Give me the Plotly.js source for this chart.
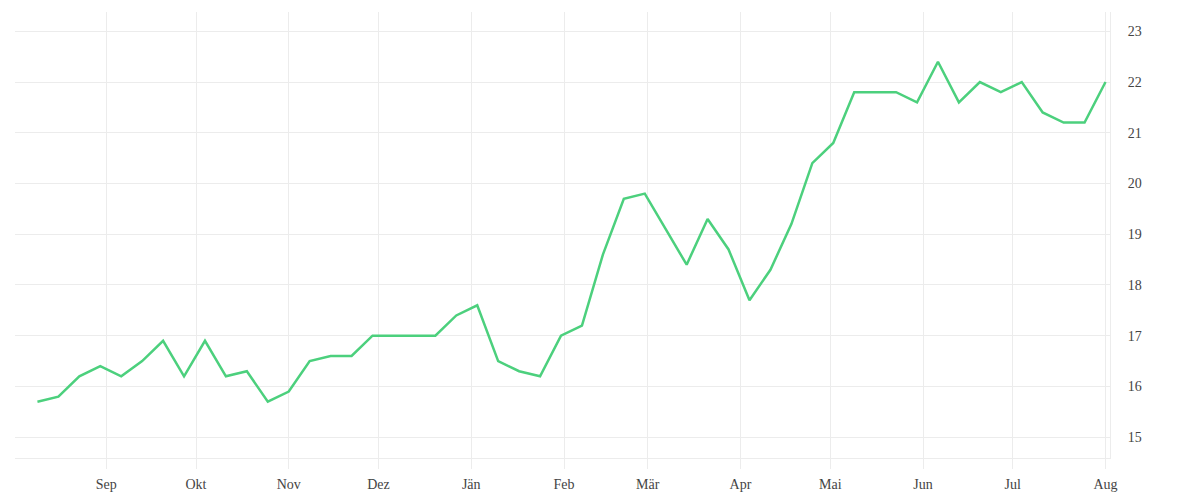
<!DOCTYPE html>
<html>
<head>
<meta charset="utf-8">
<script src="https://cdn.plot.ly/plotly-3.0.1.min.js"></script>
<style>
  html, body { margin: 0; padding: 0; background: #fff; }
  #chart { width: 1200px; height: 500px; }
</style>
</head>
<body>
<div id="chart"></div>
<script>
// weekly values, first week 2022-08-09
const startDate = '2022-08-09';
const values = [
  15.7, 15.8, 16.2, 16.4, 16.2, 16.5, 16.9, 16.2, 16.9, 16.2,
  16.3, 15.7, 15.9, 16.5, 16.6, 16.6, 17.0, 17.0, 17.0, 17.0,
  17.4, 17.6, 16.5, 16.3, 16.2, 17.0, 17.2, 18.6, 19.7, 19.8,
  19.1, 18.4, 19.3, 18.7, 17.7, 18.3, 19.2, 20.4, 20.8, 21.8,
  21.8, 21.8, 21.6, 22.4, 21.6, 22.0, 21.8, 22.0, 21.4, 21.2,
  21.2, 22.0,
];

const monthTicks = [
  '2022-09-01', '2022-10-01', '2022-11-01', '2022-12-01', '2023-01-01', '2023-02-01',
  '2023-03-01', '2023-04-01', '2023-05-01', '2023-06-01', '2023-07-01', '2023-08-01',
];
const monthLabels = ['Sep', 'Okt', 'Nov', 'Dez', 'Jän', 'Feb', 'Mär', 'Apr', 'Mai', 'Jun', 'Jul', 'Aug'];

// one date per week
const dates = values.map((v, i) => {
  const d = new Date(startDate + 'T00:00:00Z');
  d.setUTCDate(d.getUTCDate() + 7 * i);
  return d.toISOString().slice(0, 10);
});

const gridColor = '#ececec';

Plotly.newPlot('chart', [{
  x: dates,
  y: values,
  mode: 'lines',
  line: {color: '#4cd07d', width: 2.5},
  hoverinfo: 'x+y',
}], {
  width: 1200,
  height: 500,
  margin: {l: 15, r: 90, t: 12, b: 42},
  font: {family: 'Liberation Serif, serif', size: 14, color: '#444'},
  paper_bgcolor: '#fff',
  plot_bgcolor: '#fff',
  showlegend: false,
  xaxis: {
    type: 'date',
    range: ['2022-08-01 12:00', '2023-08-02 12:00'],
    tickvals: monthTicks,
    ticktext: monthLabels,
    ticks: 'outside',
    ticklen: 10,
    tickcolor: gridColor,
    ticklabelstandoff: 3,
    showgrid: true,
    gridcolor: gridColor,
    showline: true,
    linecolor: gridColor,
    zeroline: false,
  },
  yaxis: {
    side: 'right',
    range: [14.59, 23.38],
    dtick: 1,
    showgrid: true,
    gridcolor: gridColor,
    showline: true,
    linecolor: gridColor,
    zeroline: false,
    ticks: '',
    ticklabelstandoff: 14,
  },
}, {displayModeBar: false});
</script>
</body>
</html>
